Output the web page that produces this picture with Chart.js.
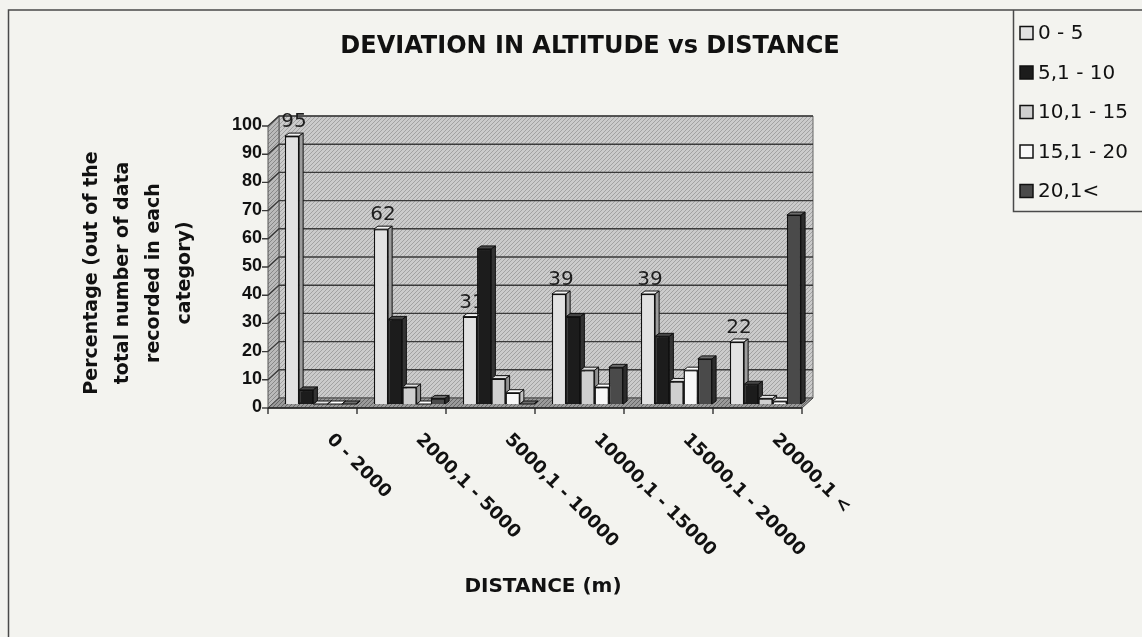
<!DOCTYPE html>
<html>
<head>
<meta charset="utf-8">
<script src="https://cdn.jsdelivr.net/npm/chart.js@4.4.1/dist/chart.umd.min.js"></script>
<style>
  html, body { margin: 0; padding: 0; background: #f3f3ef; }
  canvas { display: block; }
</style>
</head>
<body>
<canvas id="chart" width="1142" height="637"></canvas>
<script>
// distance classes (m) and altitude deviation classes
const categories = ['0 - 2000', '2000,1 - 5000', '5000,1 - 10000', '10000,1 - 15000', '15000,1 - 20000', '20000,1 <'];
const seriesNames = ['0 - 5', '5,1 - 10', '10,1 - 15', '15,1 - 20', '20,1<'];

// percentages
const dev0to5 = [95, 62, 31, 39, 39, 22];
const dev5to10 = [5, 30, 55, 31, 24, 7];
const dev10to15 = [0, 6, 9, 12, 8, 2];
const dev15to20 = [0, 0, 4, 6, 12, 1];
const dev20plus = [0, 2, 0, 13, 16, 67];

const yTickValues = [0, 10, 20, 30, 40, 50, 60, 70, 80, 90, 100];
const yTitleLines = ['Percentage (out of the', 'total number of data', 'recorded in each', 'category)'];

const FONT = "'DejaVu Sans', Arial, sans-serif";
const fills = ['#e2e2e2', '#1c1c1c', '#cfcfcf', '#f8f8f8', '#4a4a4a'];
const tops = ['#f2f2f2', '#474747', '#e2e2e2', '#ffffff', '#6c6c6c'];
const sides = ['#9c9c9c', '#333333', '#929292', '#c4c4c4', '#2c2c2c'];
const DX = 4, DY = 3;

function hatch(ctx, bg, fg) {
    const c = document.createElement('canvas');
    c.width = 4; c.height = 4;
    const g = c.getContext('2d');
    g.fillStyle = bg;
    g.fillRect(0, 0, 4, 4);
    g.fillStyle = fg;
    for (let i = 0; i < 4; i++) g.fillRect(i, 3 - i, 1, 1);
    return ctx.createPattern(c, 'repeat');
}

function poly(ctx, pts, fill, stroke, lw) {
    ctx.beginPath();
    ctx.moveTo(pts[0][0], pts[0][1]);
    for (let i = 1; i < pts.length; i++) ctx.lineTo(pts[i][0], pts[i][1]);
    ctx.closePath();
    if (fill) { ctx.fillStyle = fill; ctx.fill(); }
    if (stroke) { ctx.strokeStyle = stroke; ctx.lineWidth = lw || 1; ctx.stroke(); }
}

const excel3d = {
    id: 'excel3d',
    beforeDatasetsDraw(chart) {
        const ctx = chart.ctx;
        const a = chart.chartArea;
        const y = chart.scales.y;
        const x = chart.scales.x;
        const fl = a.left - 8, fr = a.right - 8, ft = a.top + 4, fb = a.bottom + 4;
        const bl = a.left + 3, br = a.right + 3, bt = a.top - 6, bb = a.bottom - 6;
        ctx.save();
        poly(ctx, [[bl, bt], [br, bt], [br, bb], [bl, bb]], hatch(ctx, '#cbcbcb', '#a2a2a2'), '#666', 1);
        poly(ctx, [[fl, ft], [bl, bt], [bl, bb], [fl, fb]], hatch(ctx, '#bababa', '#888888'), '#555', 1);
        poly(ctx, [[fl, fb], [fr, fb], [br, bb], [bl, bb]], hatch(ctx, '#9a9a9a', '#686868'), '#444', 1);

        ctx.strokeStyle = '#3a3a3a';
        ctx.lineWidth = 1.4;
        yTickValues.forEach(v => {
            const py = y.getPixelForValue(v);
            ctx.beginPath();
            if (v > 0) {
                ctx.moveTo(fl, py + 4);
                ctx.lineTo(bl, py - 6);
                ctx.lineTo(br, py - 6);
            }
            ctx.moveTo(fl - 6, py + 4);
            ctx.lineTo(fl, py + 4);
            ctx.stroke();
        });

        // front edge of the floor with category ticks
        ctx.strokeStyle = '#222';
        ctx.lineWidth = 1.3;
        ctx.beginPath();
        ctx.moveTo(fl, fb);
        ctx.lineTo(fr, fb);
        for (let k = 0; k <= categories.length; k++) {
            const px = x.getPixelForValue(k - 0.5) - 8;
            ctx.moveTo(px, fb);
            ctx.lineTo(px, fb + 6);
        }
        ctx.stroke();
        ctx.restore();
    },
    afterDatasetsDraw(chart) {
        const ctx = chart.ctx;
        const metas = chart.getSortedVisibleDatasetMetas().slice().sort((p, q) => p.index - q.index);
        ctx.save();
        for (let i = 0; i < categories.length; i++) {
            metas.forEach((meta, k) => {
                const bar = meta.data[i];
                const p = bar.getProps(['x', 'y', 'base', 'width'], true);
                const l = p.x - p.width / 2, r = p.x + p.width / 2;
                bar.draw(ctx);
                poly(ctx, [[l, p.y], [r, p.y], [r + DX, p.y - DY], [l + DX, p.y - DY]], tops[k], '#111', 1);
                poly(ctx, [[r, p.y], [r + DX, p.y - DY], [r + DX, p.base - DY], [r, p.base]], sides[k], '#111', 1);
                if (k === 0) {
                    // value label sits behind the following bars, as in the original
                    ctx.fillStyle = '#1e1e1e';
                    ctx.font = '20px ' + FONT;
                    ctx.textAlign = 'center';
                    ctx.textBaseline = 'middle';
                    ctx.fillText(String(dev0to5[i]), p.x + 2, p.y - DY - 11);
                }
            });
        }

        // rotated category labels
        const xs = chart.scales.x;
        ctx.font = 'bold 18px ' + FONT;
        ctx.fillStyle = '#111';
        ctx.textAlign = 'left';
        ctx.textBaseline = 'middle';
        categories.forEach((c, i) => {
            ctx.save();
            ctx.translate(xs.getPixelForValue(i) + 9, 437);
            ctx.rotate(Math.PI / 4);
            ctx.fillText(c, 0, 0);
            ctx.restore();
        });
        ctx.restore();
    },
    afterDraw(chart) {
        const ctx = chart.ctx;
        ctx.save();
        // outer frame and legend box
        ctx.strokeStyle = '#4a4a4a';
        ctx.lineWidth = 1.5;
        ctx.beginPath();
        ctx.moveTo(8.5, 637);
        ctx.lineTo(8.5, 10);
        ctx.lineTo(1142, 10);
        ctx.moveTo(1013.5, 10);
        ctx.lineTo(1013.5, 211.5);
        ctx.lineTo(1142, 211.5);
        ctx.stroke();

        ctx.fillStyle = '#111';
        ctx.font = 'bold 24px ' + FONT;
        ctx.textAlign = 'center';
        ctx.textBaseline = 'middle';
        ctx.fillText('DEVIATION IN ALTITUDE vs DISTANCE', 590, 47);

        // y axis title, four lines rotated
        ctx.font = 'bold 19px ' + FONT;
        yTitleLines.forEach((line, i) => {
            ctx.save();
            ctx.translate(92 + i * 31, 273);
            ctx.rotate(-Math.PI / 2);
            ctx.fillText(line, 0, 0);
            ctx.restore();
        });

        ctx.font = '20px ' + FONT;
        ctx.textAlign = 'left';
        chart.data.datasets.forEach((ds, k) => {
            const cy = 33 + k * 39.5;
            ctx.fillStyle = fills[k];
            ctx.fillRect(1020, cy - 6.5, 13, 13);
            ctx.strokeStyle = '#111';
            ctx.lineWidth = 1.5;
            ctx.strokeRect(1020, cy - 6.5, 13, 13);
            ctx.fillStyle = '#111';
            ctx.fillText(ds.label, 1038, cy + 1);
        });
        ctx.restore();
    }
};

const seriesData = [dev0to5, dev5to10, dev10to15, dev15to20, dev20plus];

new Chart(document.getElementById('chart'), {
    type: 'bar',
    data: {
        labels: categories,
        datasets: seriesNames.map((name, k) => ({
            label: name,
            data: seriesData[k],
            backgroundColor: fills[k],
            borderColor: '#111',
            borderWidth: 1.3,
            categoryPercentage: 0.8,
            barPercentage: 1.0
        }))
    },
    options: {
        responsive: false,
        animation: false,
        devicePixelRatio: 1,
        layout: { padding: { left: 76, top: 122, right: 332, bottom: 20 } },
        plugins: {
            legend: { display: false },
            title: { display: false },
            tooltip: { enabled: false }
        },
        scales: {
            x: {
                grid: { display: false },
                border: { display: false },
                ticks: { display: false },
                title: {
                    display: true,
                    text: 'DISTANCE (m)',
                    color: '#111',
                    font: { family: FONT, size: 20, weight: 'bold' },
                    padding: { top: 0, bottom: 18 }
                },
                afterFit(s) { s.height = 637 - 20 - 404; }
            },
            y: {
                min: 0,
                max: 100,
                afterBuildTicks(s) { s.ticks = yTickValues.map(v => ({ value: v })); },
                ticks: {
                    color: '#111',
                    padding: 14,
                    labelOffset: 3,
                    font: { family: "Arial, 'Liberation Sans', sans-serif", size: 18, weight: 'bold' }
                },
                grid: { display: false, drawTicks: false },
                border: { display: false },
                title: { display: false },
                afterFit(s) { s.width = 200; }
            }
        }
    },
    plugins: [excel3d]
});
</script>
</body>
</html>
